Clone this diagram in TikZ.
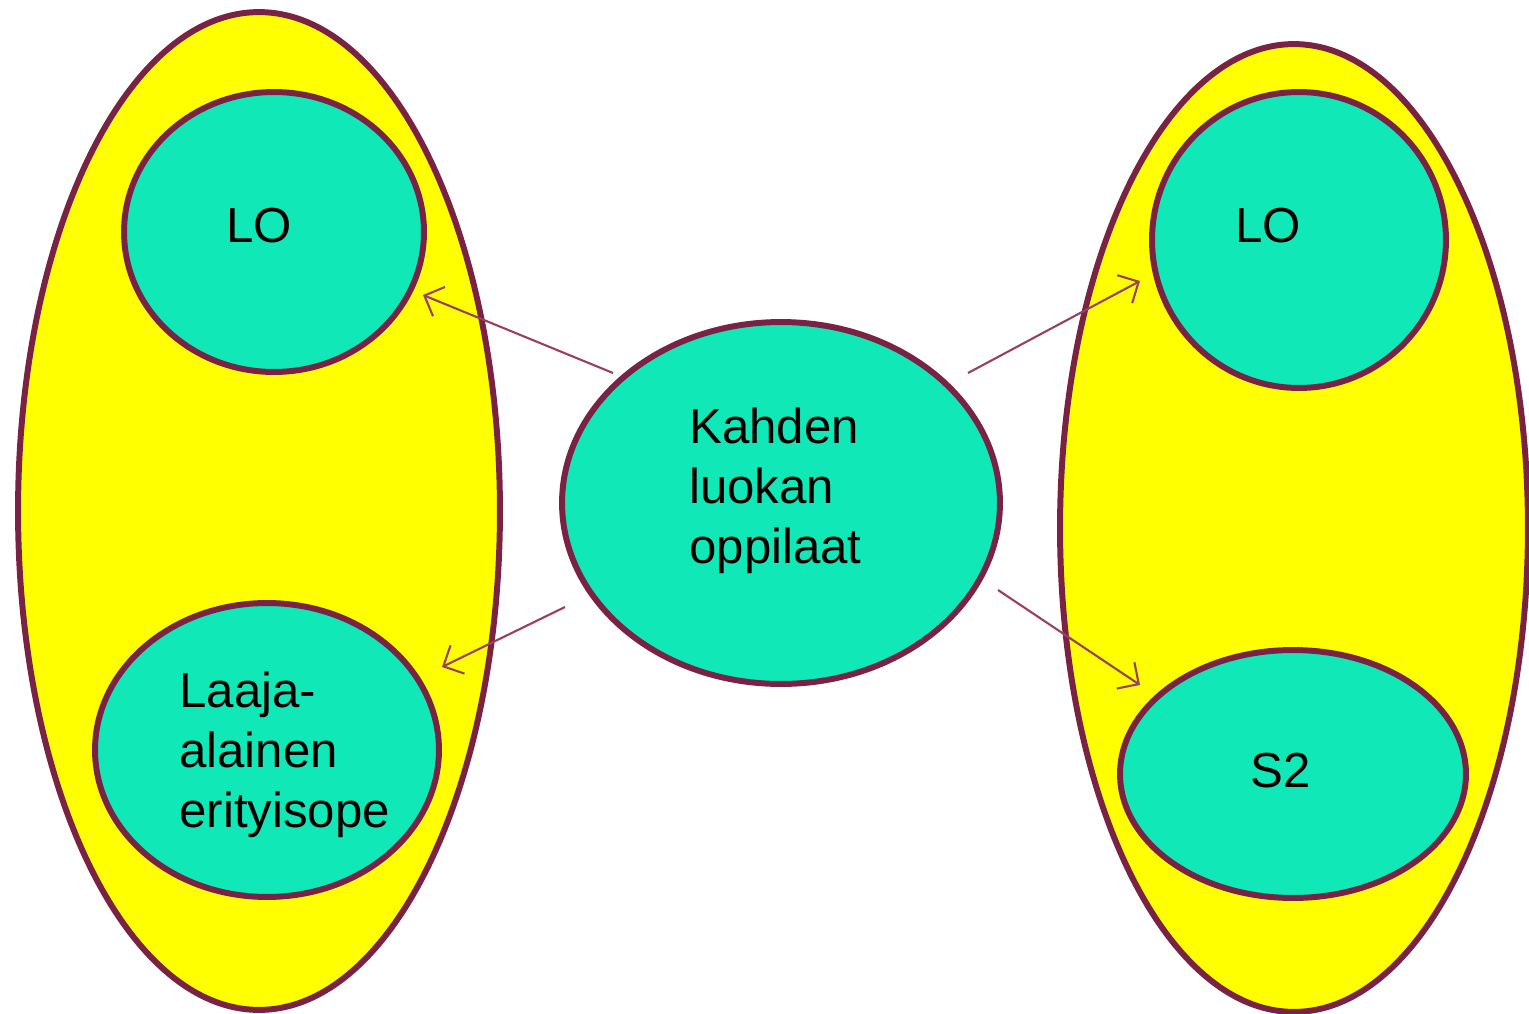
\documentclass[tikz,border=0pt]{standalone}
\usepackage{fontspec}
\setmainfont{Liberation Sans}
\usetikzlibrary{shapes.geometric,arrows.meta}
\definecolor{outer}{HTML}{FFFF00}
\definecolor{inner}{HTML}{10E8B8}
\definecolor{rim}{HTML}{7A2244}
\definecolor{arrowc}{HTML}{9A3F62}
\tikzset{
  blob/.style={ellipse,draw=rim,line width=3.4pt,inner sep=0pt},
  outerblob/.style={blob,fill=outer},
  innerblob/.style={blob,fill=inner},
  lbl/.style={font=\fontsize{28}{34}\selectfont,inner sep=0pt,align=left},
  link/.style={draw=arrowc,line width=1.2pt,-{Straight Barb[length=9pt,width=18pt,line width=1.2pt]}}
}
\begin{document}
\begin{tikzpicture}[x=0.02cm,y=-0.02cm]
\useasboundingbox (0,0) rectangle (1529,1014);
% outer ellipses
\node[outerblob,minimum width=9.64cm,minimum height=19.96cm] (L) at (259,511) {};
\node[outerblob,minimum width=9.36cm,minimum height=19.36cm] (R) at (1294,528) {};
% inner shapes
\node[innerblob,minimum width=6.0cm,minimum height=5.6cm] (lo1) at (274,232) {};
\node[innerblob,minimum width=6.88cm,minimum height=5.88cm] (lb) at (267,750) {};
\node[innerblob,minimum width=8.76cm,minimum height=7.24cm] (c) at (781,503) {};
\node[innerblob,minimum width=5.88cm,minimum height=5.92cm] (lo2) at (1299,240) {};
\node[innerblob,minimum width=6.92cm,minimum height=4.96cm] (s2) at (1293,774) {};
% texts
\node[lbl] (t1) at (259,226) {LO};
\node[lbl,anchor=west] (t2) at (179,755) {Laaja-\\alainen\\erityisope};
\node[lbl,anchor=west] (t3) at (689,491) {Kahden\\luokan\\oppilaat};
\node[lbl] (t4) at (1268,226) {LO};
\node[lbl] (t5) at (1281,771) {S2};
% connectors
\draw[link] ([shift={(-168,-130)}]c.center) -- ([shift={(149,63)}]lo1.center);
\draw[link] ([shift={(-216,104)}]c.center) -- ([shift={(175,-83)}]lb.center);
\draw[link] ([shift={(187,-130)}]c.center) -- ([shift={(-159,41)}]lo2.center);
\draw[link] ([shift={(217,87)}]c.center) -- ([shift={(-153,-89)}]s2.center);
\end{tikzpicture}
\end{document}
